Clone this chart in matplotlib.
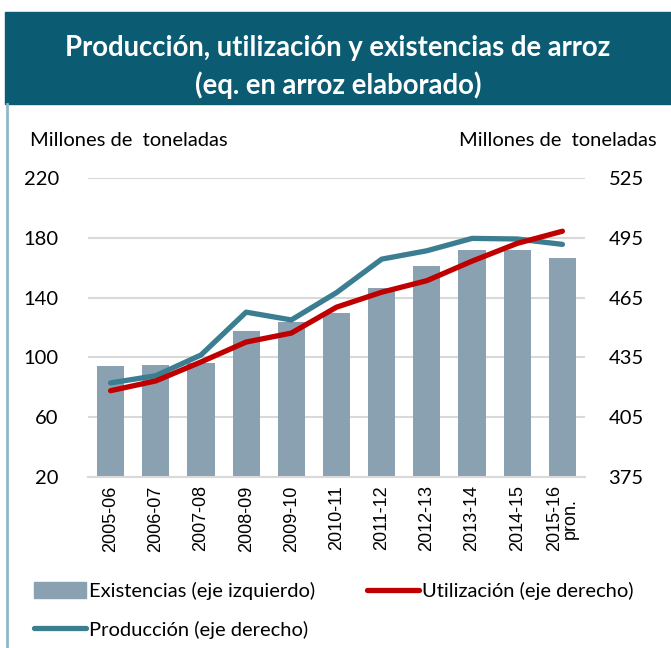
import numpy as np
import matplotlib as mpl
mpl.use('Agg')
from matplotlib import pyplot as plt
from matplotlib.patches import Rectangle
from matplotlib.lines import Line2D

#------------------ data ----------------------
seasons = ['2005-06', '2006-07', '2007-08', '2008-09', '2009-10', '2010-11',
           '2011-12', '2012-13', '2013-14', '2014-15', '2015-16\npron.']
existencias = [94.3, 94.9, 96.0, 117.6, 124.0, 130.0, 146.5, 161.0, 171.6, 172.0, 166.5]
produccion = [422.2, 425.8, 436.2, 457.7, 453.8, 467.5, 484.3, 488.5, 494.7, 494.4, 491.7]
utilizacion = [418.3, 423.2, 432.7, 442.7, 447.2, 460.2, 467.7, 473.5, 483.3, 492.2, 498.3]

left_ticks = [20, 60, 100, 140, 180, 220]
right_ticks = [375, 405, 435, 465, 495, 525]

#------------------ style ----------------------
plt.rcParams['font.family'] = ['Lato', 'DejaVu Sans']
c_bar = '#8aa1b1'
c_red = '#c00000'
c_teal = '#3b7d91'
c_band = '#0b5b73'
c_grid = '#d9d9d9'
fs = 14.5

fig = plt.figure(figsize=(6.71, 6.48), dpi=100)

# title band + left border
fig.patches.append(Rectangle((5 / 671, 1 - 104 / 648), 1, 92 / 648, transform=fig.transFigure,
                             color=c_band, zorder=0))
fig.lines.append(Line2D([6.5 / 671, 6.5 / 671], [0, 1 - 104 / 648], transform=fig.transFigure,
                        color='#8fb8c8', lw=2))
fig.text(0.504, 1 - 48 / 648, 'Producción, utilización y existencias de arroz', color='white',
         fontsize=19.8, fontweight='bold', ha='center', va='center')
fig.text(0.504, 1 - 85 / 648, '(eq. en arroz elaborado)', color='white',
         fontsize=19.8, fontweight='bold', ha='center', va='center')

fig.text(30 / 671, 1 - 140 / 648, 'Millones de  toneladas', fontsize=fs, ha='left', va='center')
fig.text(657 / 671, 1 - 140 / 648, 'Millones de  toneladas', fontsize=fs, ha='right', va='center')

#------------------ plots ----------------------
ax = fig.add_axes([88 / 671, 1 - 477 / 648, 497 / 671, 299 / 648])
x = np.arange(len(seasons))
ax.bar(x, existencias, width=0.6, color=c_bar, zorder=2)
ax.set_ylim(20, 220)
ax.set_yticks(left_ticks)
ax.set_xlim(-0.5, len(seasons) - 0.5)
ax.set_xticks(x)
ax.set_xticklabels(seasons, rotation=90, fontsize=13, linespacing=0.85,
                   family=['Liberation Sans', 'DejaVu Sans'])
ax.yaxis.grid(True, color=c_grid, lw=1.5, zorder=0)
ax.set_axisbelow(True)
for s in ['top', 'right', 'left']:
    ax.spines[s].set_visible(False)
ax.spines['bottom'].set_color(c_grid)
ax.spines['bottom'].set_linewidth(1.5)
ax.tick_params(axis='both', length=0)
ax.tick_params(axis='y', labelsize=fs, pad=21)
ax.tick_params(axis='x', pad=6)

ax2 = ax.twinx()
ax2.plot(x, produccion, color=c_teal, lw=3.8, solid_capstyle='round', zorder=3)
ax2.plot(x, utilizacion, color=c_red, lw=3.8, solid_capstyle='round', zorder=4)
ax2.set_ylim(375, 525)
ax2.set_yticks(right_ticks)
for s in ['top', 'right', 'left', 'bottom']:
    ax2.spines[s].set_visible(False)
ax2.tick_params(axis='y', length=0, labelsize=fs, pad=17)

#------------------ legend ----------------------
handles = [Rectangle((0, 0), 1, 1, color=c_bar),
           Line2D([], [], color=c_teal, lw=3.8, solid_capstyle='round'),
           Line2D([], [], color=c_red, lw=3.8, solid_capstyle='round')]
labels = ['Existencias (eje izquierdo)', 'Producción (eje derecho)', 'Utilización (eje derecho)']
fig.legend(handles, labels, ncol=2, loc='upper left', bbox_to_anchor=(34 / 671, 1 - 582 / 648),
           frameon=False, fontsize=fs, handlelength=2.6, handleheight=0.8, handletextpad=0.15,
           columnspacing=2.55, labelspacing=1.02, borderpad=0, borderaxespad=0)

fig.savefig('out.png', dpi=100)
